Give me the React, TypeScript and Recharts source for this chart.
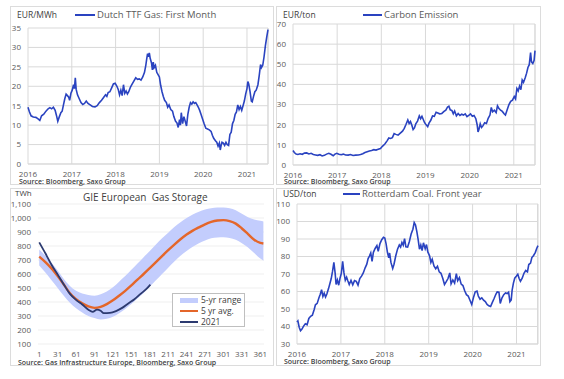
import React from "react";
import {
  Area,
  CartesianGrid,
  ComposedChart,
  Line,
  LineChart,
  ReferenceLine,
  XAxis,
  YAxis,
} from "recharts";

const FONT = "'Open Sans', 'Noto Sans', sans-serif";
const BLUE = "#2a43c0";
const ORANGE = "#e4662a";
const NAVY = "#2c3a70";
const BAND = "#c3cdfd";
const GRID = "#d9d9d9";
const TICK = "#595959";

const YEAR_TICKS = [2016, 2017, 2018, 2019, 2020, 2021];
const X_MIN = 2016;
const X_MAX = 2021.48;

// Dutch TTF gas, first month (EUR/MWh)
const TTF_DATES = [
  2016.0, 2016.03, 2016.07, 2016.12, 2016.18, 2016.23, 2016.27, 2016.31, 2016.36, 2016.41, 2016.46, 2016.5,
  2016.54, 2016.58, 2016.62, 2016.65, 2016.68, 2016.71, 2016.75, 2016.78, 2016.81, 2016.84, 2016.87, 2016.9,
  2016.93, 2016.95, 2016.98, 2017.01, 2017.04, 2017.06, 2017.08, 2017.1, 2017.13, 2017.17, 2017.21, 2017.25,
  2017.29, 2017.33, 2017.37, 2017.42, 2017.47, 2017.53, 2017.58, 2017.63, 2017.68, 2017.73, 2017.77, 2017.8,
  2017.83, 2017.87, 2017.91, 2017.95, 2017.99, 2018.03, 2018.06, 2018.09, 2018.12, 2018.15, 2018.18, 2018.21,
  2018.24, 2018.27, 2018.3, 2018.34, 2018.38, 2018.42, 2018.46, 2018.5, 2018.54, 2018.58, 2018.62, 2018.66,
  2018.69, 2018.71, 2018.73, 2018.75, 2018.77, 2018.79, 2018.82, 2018.84, 2018.86, 2018.88, 2018.91, 2018.94,
  2018.97, 2019.0, 2019.03, 2019.06, 2019.09, 2019.12, 2019.16, 2019.19, 2019.22, 2019.26, 2019.3, 2019.33,
  2019.37, 2019.4, 2019.43, 2019.46, 2019.48, 2019.5, 2019.53, 2019.56, 2019.59, 2019.62, 2019.65, 2019.68,
  2019.71, 2019.74, 2019.77, 2019.8, 2019.83, 2019.86, 2019.89, 2019.92, 2019.95, 2019.98, 2020.02, 2020.06,
  2020.1, 2020.14, 2020.18, 2020.21, 2020.24, 2020.28, 2020.31, 2020.34, 2020.37, 2020.39, 2020.41, 2020.43,
  2020.46, 2020.49, 2020.52, 2020.55, 2020.58, 2020.61, 2020.64, 2020.67, 2020.7, 2020.73, 2020.76, 2020.79,
  2020.82, 2020.85, 2020.88, 2020.91, 2020.94, 2020.97, 2021.0, 2021.02, 2021.04, 2021.07, 2021.1, 2021.12,
  2021.15, 2021.18, 2021.21, 2021.25, 2021.28, 2021.31, 2021.33, 2021.36, 2021.39, 2021.42, 2021.45, 2021.48,
];
const TTF_PRICES = [
  14.6, 13.5, 12.4, 12.1, 12.0, 11.6, 11.2, 12.4, 12.8, 13.6, 14.2, 14.5,
  14.2, 14.6, 13.8, 12.5, 11.0, 12.0, 13.2, 13.6, 15.2, 16.8, 18.0, 17.6,
  17.2, 16.4, 18.2, 19.0, 20.4, 19.4, 22.2, 19.2, 17.8, 16.8, 15.8, 15.3,
  15.6, 16.2, 15.6, 15.2, 14.8, 14.7, 15.0, 15.8, 16.4, 17.2, 17.8, 17.4,
  18.4, 18.6, 19.6, 20.6, 20.8, 20.0, 19.2, 17.8, 19.0, 17.6, 20.4, 18.2,
  18.8, 18.0, 18.6, 19.8, 20.6, 21.4, 22.2, 21.8, 21.9, 21.6, 22.4, 23.6,
  25.4, 27.0, 28.4, 27.6, 28.6, 27.2, 26.0, 24.2, 26.2, 24.8, 25.4, 23.6,
  23.0, 22.4, 20.2, 18.6, 17.4, 16.4, 15.8, 14.6, 15.2, 14.0, 13.6, 12.2,
  11.0, 10.6, 9.4, 11.4, 10.0, 13.2, 10.4, 12.2, 11.0, 9.8, 12.8, 14.6,
  15.8, 15.4, 16.0, 15.6, 15.8, 15.2, 14.6, 13.8, 12.8, 11.8, 10.4, 9.2,
  9.0, 8.8, 8.4, 7.4, 6.6, 6.0, 5.6, 4.6, 5.4, 3.6, 4.8, 5.6,
  5.4, 4.8, 5.6, 5.0, 4.8, 7.6, 8.2, 10.4, 11.2, 12.8, 13.4, 15.2,
  14.0, 14.8, 13.8, 15.0, 16.2, 18.0, 19.4, 21.2, 20.6, 18.6, 16.2, 16.0,
  17.4, 18.6, 19.0, 20.4, 22.8, 25.6, 24.8, 25.4, 27.6, 30.4, 32.6, 34.6,
];

// Carbon emission allowances (EUR/ton)
const EUA_DATES = [
  2016.0, 2016.03, 2016.07, 2016.11, 2016.16, 2016.21, 2016.26, 2016.31, 2016.36, 2016.41, 2016.46, 2016.51,
  2016.56, 2016.61, 2016.66, 2016.71, 2016.76, 2016.81, 2016.86, 2016.91, 2016.95, 2016.99, 2017.04, 2017.09,
  2017.14, 2017.19, 2017.25, 2017.3, 2017.36, 2017.42, 2017.48, 2017.53, 2017.58, 2017.63, 2017.68, 2017.73,
  2017.78, 2017.83, 2017.88, 2017.93, 2017.98, 2018.03, 2018.08, 2018.13, 2018.17, 2018.21, 2018.25, 2018.29,
  2018.33, 2018.38, 2018.43, 2018.48, 2018.52, 2018.56, 2018.6, 2018.63, 2018.66, 2018.69, 2018.72, 2018.75,
  2018.78, 2018.82, 2018.86, 2018.89, 2018.92, 2018.95, 2018.98, 2019.02, 2019.05, 2019.08, 2019.12, 2019.16,
  2019.2, 2019.24, 2019.28, 2019.32, 2019.37, 2019.42, 2019.46, 2019.5, 2019.53, 2019.56, 2019.6, 2019.63,
  2019.66, 2019.7, 2019.74, 2019.78, 2019.82, 2019.86, 2019.9, 2019.94, 2019.98, 2020.02, 2020.06, 2020.1,
  2020.14, 2020.17, 2020.19, 2020.21, 2020.24, 2020.27, 2020.3, 2020.34, 2020.38, 2020.42, 2020.46, 2020.49,
  2020.52, 2020.56, 2020.6, 2020.63, 2020.66, 2020.7, 2020.74, 2020.78, 2020.81, 2020.85, 2020.89, 2020.93,
  2020.97, 2021.01, 2021.04, 2021.07, 2021.1, 2021.13, 2021.16, 2021.19, 2021.22, 2021.26, 2021.29, 2021.32,
  2021.35, 2021.38, 2021.4, 2021.43, 2021.46, 2021.48,
];
const EUA_PRICES = [
  7.2, 6.2, 5.4, 5.2, 5.6, 5.3, 5.9, 6.0, 5.5, 5.8, 5.2, 5.0,
  4.8, 5.1, 4.5, 4.8, 5.4, 5.8, 5.3, 4.6, 5.4, 5.8, 5.3, 5.1,
  5.4, 5.0, 4.9, 5.2, 4.7, 4.9, 5.0, 5.2, 5.6, 6.2, 6.6, 7.0,
  7.2, 7.6, 7.4, 7.8, 8.2, 9.4, 10.4, 12.0, 13.4, 13.2, 13.6, 15.6,
  15.2, 14.8, 15.8, 16.8, 18.2, 20.2, 22.4, 20.6, 21.6, 19.8, 17.6, 18.4,
  20.4, 21.8, 24.4, 23.0, 24.2, 22.6, 21.0, 19.8, 19.0, 20.8, 22.2, 24.4,
  24.2, 26.2, 25.8, 25.4, 25.6, 26.6, 27.2, 28.8, 29.2, 27.4, 27.0, 25.4,
  26.8, 24.4, 25.6, 24.6, 25.2, 24.8, 25.4, 24.0, 24.6, 25.4, 24.2, 24.6,
  23.0, 20.0, 16.4, 17.6, 20.4, 18.6, 19.4, 21.0, 20.6, 23.2, 24.8, 28.6,
  26.4, 27.2, 26.0, 29.4, 28.2, 27.2, 26.6, 25.4, 24.8, 27.4, 30.0, 31.6,
  32.2, 34.0, 32.8, 38.0, 36.8, 39.2, 37.4, 42.2, 41.0, 43.4, 45.6, 48.4,
  49.8, 55.8, 51.2, 50.4, 52.0, 56.8,
];

// Rotterdam coal, front year (USD/ton)
const COAL_DATES = [
  2016.0, 2016.02, 2016.05, 2016.08, 2016.11, 2016.15, 2016.19, 2016.23, 2016.27, 2016.31, 2016.35, 2016.39,
  2016.42, 2016.46, 2016.5, 2016.53, 2016.56, 2016.59, 2016.62, 2016.65, 2016.68, 2016.72, 2016.75, 2016.78,
  2016.81, 2016.84, 2016.87, 2016.89, 2016.92, 2016.95, 2016.98, 2017.01, 2017.04, 2017.07, 2017.1, 2017.13,
  2017.16, 2017.19, 2017.23, 2017.27, 2017.31, 2017.35, 2017.39, 2017.43, 2017.47, 2017.51, 2017.55, 2017.59,
  2017.62, 2017.65, 2017.68, 2017.71, 2017.74, 2017.78, 2017.82, 2017.85, 2017.89, 2017.93, 2017.97, 2018.0,
  2018.03, 2018.06, 2018.09, 2018.11, 2018.14, 2018.18, 2018.21, 2018.25, 2018.29, 2018.33, 2018.36, 2018.39,
  2018.42, 2018.45, 2018.48, 2018.52, 2018.56, 2018.6, 2018.64, 2018.67, 2018.7, 2018.73, 2018.76, 2018.79,
  2018.82, 2018.85, 2018.88, 2018.92, 2018.95, 2018.98, 2019.02, 2019.05, 2019.08, 2019.12, 2019.16, 2019.2,
  2019.24, 2019.28, 2019.32, 2019.36, 2019.4, 2019.44, 2019.48, 2019.51, 2019.55, 2019.59, 2019.63, 2019.66,
  2019.7, 2019.74, 2019.78, 2019.82, 2019.86, 2019.9, 2019.94, 2019.98, 2020.02, 2020.06, 2020.1, 2020.13,
  2020.17, 2020.21, 2020.25, 2020.29, 2020.33, 2020.37, 2020.41, 2020.45, 2020.49, 2020.53, 2020.56, 2020.6,
  2020.63, 2020.67, 2020.71, 2020.75, 2020.79, 2020.82, 2020.85, 2020.88, 2020.9, 2020.93, 2020.96, 2021.0,
  2021.03, 2021.06, 2021.09, 2021.13, 2021.17, 2021.21, 2021.25, 2021.28, 2021.32, 2021.35, 2021.39, 2021.43,
  2021.46, 2021.49,
];
const COAL_PRICES = [
  42.5, 43.2, 39.6, 37.6, 38.4, 40.2, 41.6, 41.0, 44.6, 45.8, 46.4, 49.6,
  52.4, 53.2, 56.4, 58.4, 61.0, 57.2, 59.0, 56.8, 58.6, 61.8, 64.6, 67.4,
  71.6, 76.6, 70.2, 64.0, 66.6, 63.6, 67.6, 70.4, 77.2, 70.6, 66.4, 68.2,
  66.0, 64.0, 66.4, 63.8, 66.2, 65.8, 63.6, 67.4, 68.8, 70.6, 73.4, 75.6,
  78.8, 80.2, 82.0, 77.2, 82.4, 84.6, 86.2, 83.0, 87.4, 89.6, 91.0, 90.6,
  87.2, 82.4, 79.2, 82.0, 76.6, 73.2, 75.6, 80.4, 84.2, 86.6, 85.4, 88.0,
  86.4, 90.2, 85.6, 85.4, 88.6, 92.8, 95.6, 99.4, 98.0, 94.2, 89.6, 84.2,
  86.6, 83.4, 87.8, 84.4, 86.8, 82.6, 80.4, 76.6, 78.4, 74.6, 73.0, 74.4,
  71.2, 70.4, 67.6, 64.0, 65.6, 67.4, 70.6, 64.4, 66.6, 64.8, 70.2, 66.2,
  68.0, 64.2, 63.4, 60.4, 58.2, 57.4, 55.0, 52.6, 56.6, 59.8, 60.2, 57.4,
  55.6, 56.4, 55.0, 54.2, 52.6, 51.8, 51.4, 53.8, 56.0, 58.4, 59.8, 59.6,
  53.2, 56.4, 58.2, 59.2, 58.8, 59.6, 54.2, 55.2, 60.6, 64.8, 67.6, 68.8,
  69.8, 67.4, 65.8, 67.6, 70.4, 72.0, 71.2, 75.4, 76.2, 79.4, 80.6, 82.4,
  84.6, 86.2,
];

// GIE European gas storage (TWh) by day of year
const STORAGE_DAYS = [
  1, 11, 21, 31, 41, 51, 61, 71, 81, 91, 101, 111, 121, 131, 141, 151, 161, 171, 181,
  191, 201, 211, 221, 231, 241, 251, 261, 271, 281, 291, 301, 311, 321, 331, 341, 351, 361, 366,
];
const RANGE_LOW = [
  660, 610, 555, 500, 445, 395, 355, 325, 300, 285, 275, 280, 295, 320, 350, 385, 425, 465, 510,
  555, 600, 645, 690, 730, 765, 795, 820, 840, 855, 860, 862, 858, 845, 820, 790, 750, 710, 695,
];
const RANGE_HIGH = [
  775, 730, 680, 625, 565, 515, 480, 460, 450, 445, 455, 475, 505, 545, 585, 630, 675, 720, 765,
  810, 855, 895, 935, 970, 1000, 1025, 1045, 1060, 1070, 1075, 1075, 1070, 1055, 1030, 1005, 990, 980, 975,
];
const AVG_5Y = [
  724, 685, 640, 585, 525, 462, 420, 390, 368, 358, 365, 385, 412, 445, 480, 518, 560, 600, 642,
  685, 728, 770, 810, 848, 882, 910, 933, 955, 972, 982, 985, 978, 960, 925, 885, 845, 822, 818,
];
const DAYS_2021 = [1, 11, 21, 31, 41, 51, 61, 71, 81, 88, 95, 101, 106, 116, 126, 136, 146, 156, 166, 176, 182];
const STORAGE_2021 = [826, 748, 666, 596, 525, 458, 415, 382, 345, 330, 346, 338, 320, 322, 335, 358, 390, 420, 458, 495, 524];
const DAY_TICKS = [1, 31, 61, 91, 121, 151, 181, 211, 241, 271, 301, 331, 361];
const STORAGE_TICKS = [100, 200, 300, 400, 500, 600, 700, 800, 900, 1000, 1100];

const toSeries = (xs: number[], ys: number[]) => xs.map((x, i) => ({ x, v: ys[i] }));

const ttfData = toSeries(TTF_DATES, TTF_PRICES);
const euaData = toSeries(EUA_DATES, EUA_PRICES);
const coalData = toSeries(COAL_DATES, COAL_PRICES);
const storageData = STORAGE_DAYS.map((day, i) => ({
  day,
  range: [RANGE_LOW[i], RANGE_HIGH[i]],
  avg: AVG_5Y[i],
}));
const data2021 = DAYS_2021.map((day, i) => ({ day, y2021: STORAGE_2021[i] }));

type Box = { x: number; y: number; w: number; h: number };
type Plot = { l: number; r: number; t: number; b: number };

function Txt({
  x,
  y,
  size,
  color = "#404040",
  weight = 400,
  children,
}: {
  x: number;
  y: number;
  size: number;
  color?: string;
  weight?: number;
  children: React.ReactNode;
}) {
  return (
    <div
      style={{
        position: "absolute",
        left: x,
        top: y,
        transform: "translateY(-50%)",
        fontSize: size,
        lineHeight: 1,
        color,
        fontWeight: weight,
        whiteSpace: "pre",
      }}
    >
      {children}
    </div>
  );
}

function Frame({ box }: { box: Box }) {
  return (
    <div
      style={{
        position: "absolute",
        left: box.x,
        top: box.y,
        width: box.w,
        height: box.h,
        border: "1px solid #dcdcdc",
        boxSizing: "border-box",
      }}
    />
  );
}

const tickStyle = { fill: TICK, fontSize: 8, fontFamily: FONT };

function PricePanel({
  box,
  plot,
  data,
  yMax,
  yTicks,
}: {
  box: Box;
  plot: Plot;
  data: { x: number; v: number }[];
  yMax: number;
  yTicks: number[];
}) {
  const yMin = yTicks[0];
  return (
    <div style={{ position: "absolute", left: box.x, top: box.y }}>
      <LineChart
        width={box.w}
        height={box.h}
        data={data}
        margin={{ top: plot.t - box.y, right: box.x + box.w - plot.r, left: 0, bottom: 0 }}
      >
        <CartesianGrid stroke={GRID} vertical horizontal />
        <XAxis
          dataKey="x"
          type="number"
          domain={[X_MIN, X_MAX]}
          ticks={YEAR_TICKS}
          height={box.y + box.h - plot.b}
          axisLine={{ stroke: GRID }}
          tickLine={false}
          tickSize={0}
          tickMargin={7}
          tick={tickStyle}
          interval={0}
        />
        <YAxis
          type="number"
          domain={[yMin, yMax]}
          ticks={yTicks}
          width={plot.l - box.x}
          axisLine={false}
          tickLine={false}
          tickSize={0}
          tickMargin={7}
          tick={tickStyle}
          interval={0}
        />
        <ReferenceLine x={X_MAX} stroke={GRID} />
        <Line
          dataKey="v"
          type="linear"
          stroke={BLUE}
          strokeWidth={1.6}
          dot={false}
          isAnimationActive={false}
        />
      </LineChart>
    </div>
  );
}

function LegendLine({ x1, x2, y, color, thick = 2 }: { x1: number; x2: number; y: number; color: string; thick?: number }) {
  return (
    <div
      style={{
        position: "absolute",
        left: x1,
        top: y - thick / 2,
        width: x2 - x1,
        height: thick,
        background: color,
      }}
    />
  );
}

const BOX_TL: Box = { x: 10, y: 6, w: 264, h: 179 };
const BOX_TR: Box = { x: 276, y: 6, w: 265, h: 179 };
const BOX_BL: Box = { x: 10, y: 188, w: 264, h: 178 };
const BOX_BR: Box = { x: 276, y: 188, w: 265, h: 178 };

function StoragePanel() {
  const box = BOX_BL;
  const plot: Plot = { l: 38, r: 264, t: 204, b: 344 };
  return (
    <div style={{ position: "absolute", left: box.x, top: box.y }}>
      <ComposedChart
        width={box.w}
        height={box.h}
        data={storageData}
        margin={{ top: plot.t - box.y, right: box.x + box.w - plot.r, left: 0, bottom: 0 }}
      >
        <CartesianGrid stroke="#efefef" vertical={false} />
        <XAxis
          dataKey="day"
          type="number"
          domain={[-1, 367]}
          ticks={DAY_TICKS}
          height={box.y + box.h - plot.b}
          axisLine={false}
          tickLine={false}
          tickSize={0}
          tickMargin={7}
          tick={tickStyle}
          interval={0}
        />
        <YAxis
          type="number"
          domain={[100, 1100]}
          ticks={STORAGE_TICKS}
          width={plot.l - box.x}
          axisLine={false}
          tickLine={false}
          tickSize={0}
          tickMargin={7}
          tick={tickStyle}
          interval={0}
          tickFormatter={(v: number) => v.toLocaleString("en-US")}
        />
        <Area
          dataKey="range"
          type="monotone"
          fill={BAND}
          fillOpacity={1}
          stroke="none"
          isAnimationActive={false}
        />
        <Line
          dataKey="avg"
          type="monotone"
          stroke={ORANGE}
          strokeWidth={2.4}
          dot={false}
          isAnimationActive={false}
        />
        <Line
          data={data2021}
          dataKey="y2021"
          type="monotone"
          stroke={NAVY}
          strokeWidth={1.8}
          dot={false}
          isAnimationActive={false}
        />
      </ComposedChart>
    </div>
  );
}

export default function App() {
  return (
    <div
      style={{
        position: "absolute",
        left: 0,
        top: 0,
        width: 564,
        height: 379,
        background: "#fff",
        fontFamily: FONT,
        overflow: "hidden",
      }}
    >
      <Frame box={BOX_TL} />
      <Frame box={BOX_TR} />
      <Frame box={BOX_BL} />
      <Frame box={BOX_BR} />

      <PricePanel
        box={BOX_TL}
        plot={{ l: 28, r: 268, t: 28, b: 164 }}
        data={ttfData}
        yMax={35}
        yTicks={[0, 5, 10, 15, 20, 25, 30, 35]}
      />
      <PricePanel
        box={BOX_TR}
        plot={{ l: 293, r: 535, t: 24, b: 165 }}
        data={euaData}
        yMax={70}
        yTicks={[0, 10, 20, 30, 40, 50, 60, 70]}
      />
      <StoragePanel />
      <PricePanel
        box={BOX_BR}
        plot={{ l: 297, r: 538, t: 204, b: 344 }}
        data={coalData}
        yMax={110}
        yTicks={[30, 40, 50, 60, 70, 80, 90, 100, 110]}
      />

      {/* top left */}
      <Txt x={17} y={15} size={8.5}>EUR/MWh</Txt>
      <LegendLine x1={75} x2={95} y={15} color={BLUE} />
      <Txt x={97} y={15} size={9.5} color="#595959">Dutch TTF Gas: First Month</Txt>
      <Txt x={19} y={181} size={7} weight={600}>Source: Bloomberg, Saxo Group</Txt>

      {/* top right */}
      <Txt x={283} y={15} size={8.5}>EUR/ton</Txt>
      <LegendLine x1={363} x2={382} y={15} color={BLUE} />
      <Txt x={384} y={15} size={9.5} color="#595959">Carbon Emission</Txt>
      <Txt x={284} y={181} size={7} weight={600}>Source: Bloomberg, Saxo Group</Txt>

      {/* bottom left */}
      <Txt x={15} y={193} size={8}>TWh</Txt>
      <Txt x={83} y={197} size={10}>GIE European  Gas Storage</Txt>
      <Txt x={18} y={362} size={7} weight={600}>Source: Gas Infrastructure Europe, Bloomberg, Saxo Group</Txt>
      <div
        style={{
          position: "absolute",
          left: 172,
          top: 293,
          width: 73,
          height: 34,
          border: "1px solid #bfbfbf",
          background: "#fff",
          boxSizing: "border-box",
        }}
      />
      <LegendLine x1={180} x2={198} y={300} color={BAND} thick={5} />
      <Txt x={201} y={300} size={8.5}>5-yr range</Txt>
      <LegendLine x1={180} x2={198} y={311} color={ORANGE} thick={2.5} />
      <Txt x={201} y={311} size={8.5}>5 yr avg.</Txt>
      <LegendLine x1={180} x2={198} y={322} color={NAVY} thick={2} />
      <Txt x={201} y={322} size={8.5}>2021</Txt>

      {/* bottom right */}
      <Txt x={283} y={194} size={8.5}>USD/ton</Txt>
      <LegendLine x1={343} x2={360} y={194} color={BLUE} />
      <Txt x={362} y={194} size={9.5} color="#595959">Rotterdam Coal. Front year</Txt>
      <Txt x={284} y={361} size={7} weight={600}>Source: Bloomberg, Saxo Group</Txt>
    </div>
  );
}
